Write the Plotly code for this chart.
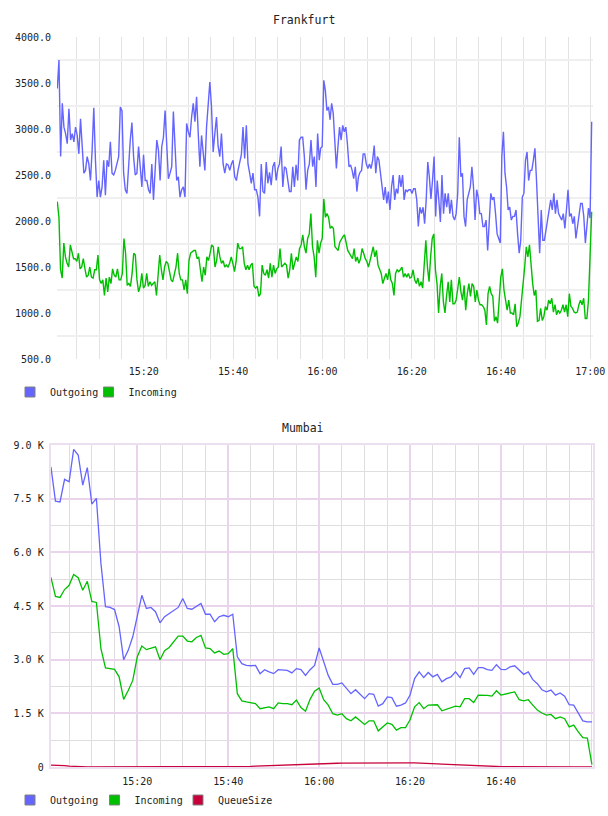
import numpy as np
import pandas as pd
import plotly.graph_objects as go

# ---------------- data ----------------
# Frankfurt: samples roughly every 22 s, read in two halves (15:00-16:00, 16:00-17:00)
fra_out_a = [3440,3750,2700,3280,3020,2950,2840,3220,2880,2950,
             2860,3020,2930,2730,3110,2730,2520,2550,2700,2620,
             2440,2770,3230,2660,2260,2440,2260,2370,2660,2280,
             2660,2590,2860,2520,2500,2550,2620,2700,3240,3200,
             2520,2340,2300,2660,2880,3070,2700,2500,2520,2810,
             2550,2370,2720,2440,2440,2340,2300,2620,2230,2550,
             2880,2770,2440,2810,2910,3200,2770,2460,2520,2590,
             3190,2770,2440,2480,2260,2340,2370,2260,3060,2970,
             2910,3130,3280,3080,3350,2950,2590,2930,2700,2550,
             3020,3310,3510,3240,2750,2950,3130,2810,2700,2950,
             2620,2520,2620,2610,2550,2620,2660,2480,2440,2550,
             2660,2720,3020,2680,3040,2620,2520,2410,2520,2340,
             2340,2260,2050,2620,2320,2300,2640,2410,2530,2390,
             2590,2640,2440,2570,2620,2810,2370,2590,2570,2440,
             2320,2320,2590,2370,2610,2440,2880,2910,2910,2700,
             2340,2550,2620,2880,2590,2700,2370,2950,2660]
fra_out_b = [2790,2810,3530,3420,3200,3240,3100,3280,3170,2880,
             2570,2810,3020,2880,3040,2970,3020,2840,2590,2610,
             2550,2460,2590,2320,2480,2530,2550,2730,2730,2620,
             2570,2620,2570,2660,2820,2520,2700,2660,2520,2370,
             2230,2370,2190,2320,2120,2370,2500,2230,2350,2300,
             2500,2370,2500,2230,2340,2320,2340,2340,2300,2350,
             2350,2230,1940,2150,2080,2150,1970,2230,2640,2480,
             2240,2440,2700,2050,2440,2230,1990,2500,2080,2300,
             2150,2300,2080,2230,2050,2010,2080,2300,2910,2480,
             2520,2050,1940,2230,2300,2370,2590,2370,2010,2340,
             2260,2080,2080,1940,1940,2010,1680,2080,2300,2230,
             2260,2080,1860,1810,1760,2700,2970,2520,2370,2120,
             2150,2010,2050,2050,2120,1860,1650,1790,2260,2300,
             2660,2750,2440,2550,2550,2660,2790,2440,2120,1650,
             2120,1790,1790,1900,2050,2120,2230,2120,2300,2080,
             2230,2080,2050,2010,2080,1920,2120,2340,2050,2080,
             1970,2050,1810,1940,2120,2190,2190,2050,1760,1940,
             2140,2030,3080]
fra_in_a = [2210,2040,1470,1380,1760,1610,1540,1500,1740,1650,
            1590,1590,1560,1650,1480,1500,1590,1480,1390,1410,
            1500,1390,1380,1470,1470,1630,1360,1320,1360,1190,
            1380,1230,1390,1320,1480,1410,1390,1480,1360,1360,
            1430,1810,1650,1300,1320,1290,1430,1650,1630,1360,
            1230,1290,1430,1270,1300,1430,1290,1340,1300,1320,
            1340,1190,1390,1630,1470,1360,1500,1560,1540,1430,
            1360,1340,1430,1500,1650,1430,1360,1360,1250,1360,
            1210,1570,1650,1670,1680,1680,1590,1610,1500,1340,
            1500,1410,1610,1570,1650,1740,1720,1500,1570,1720,
            1610,1540,1570,1500,1520,1500,1540,1610,1540,1450,
            1560,1760,1700,1700,1720,1540,1470,1520,1470,1520,
            1540,1290,1270,1290,1180,1210,1520,1430,1410,1470,
            1380,1540,1390,1520,1430,1480,1500,1700,1500,1520,
            1540,1520,1380,1470,1650,1470,1540,1610,1560,1700,
            1740,1850,1720,1650,1810,1860,2080,1720,1610,1390,
            1790,1650]
fra_in_b = [1760,1810,2240,2040,2080,2040,1920,1940,1920,1720,
            1700,1680,1770,1810,1830,1850,1760,1680,1650,1610,
            1590,1700,1560,1610,1540,1590,1700,1650,1590,1560,
            1500,1570,1650,1720,1610,1680,1520,1470,1430,1320,
            1390,1430,1360,1480,1360,1320,1190,1430,1470,1450,
            1470,1500,1390,1430,1390,1430,1380,1390,1470,1360,
            1320,1380,1290,1340,1270,1570,1790,1500,1340,1610,
            1810,1860,1470,1320,1000,1290,1430,1120,1000,1190,
            1340,1120,1360,1100,1100,1140,1300,1390,1230,1140,
            1300,1030,1210,1320,1180,1320,1290,1120,1250,1140,
            1090,1090,1070,1030,870,1210,1290,1210,1180,910,
            960,890,1140,1390,1480,1250,1140,1030,1140,1000,
            1000,980,1100,850,890,960,1140,1290,1500,1720,
            1610,1740,1500,1320,1190,1250,910,920,1050,920,
            960,1070,1030,1140,1100,1160,1010,1090,980,1030,
            1000,1030,1090,1010,1090,960,1210,1070,1050,1010,
            1000,1010,1090,1140,1090,1160,940,940,1140,1720,
            2100]

# Mumbai: one sample per minute, 15:01 .. 17:00
mum_out = [8390,7430,7410,8040,7970,8880,8720,7880,8370,7350,
           7510,5690,4480,4460,4400,3920,3000,3260,3640,4240,
           4800,4430,4460,4340,4030,4200,4290,4360,4460,4710,
           4430,4410,4480,4570,4270,4270,4060,4200,4240,4200,
           4270,3080,2890,2840,2830,2840,2610,2720,2660,2610,
           2720,2700,2700,2630,2750,2720,2560,2720,2840,3330,
           2940,2560,2310,2310,2350,2190,2050,2160,2020,1910,
           2050,2030,1700,1770,1960,1940,1700,1730,1790,2010,
           2470,2660,2500,2640,2520,2590,2380,2470,2520,2660,
           2500,2750,2770,2590,2780,2780,2720,2700,2860,2730,
           2720,2800,2830,2700,2590,2660,2440,2330,2160,2100,
           2150,2010,2070,1980,1740,1730,1490,1290,1260,1260]
mum_in = [5300,4770,4740,4960,5080,5380,5290,4940,5190,4630,
          4600,3310,2770,2750,2730,2520,1890,2140,2420,3080,
          3380,3280,3310,3360,3000,3250,3340,3500,3660,3660,
          3520,3500,3620,3680,3330,3310,3190,3240,3150,3170,
          3310,2050,1850,1820,1800,1770,1630,1660,1680,1630,
          1790,1770,1770,1740,1870,1660,1560,1890,2120,2210,
          1880,1730,1490,1450,1490,1350,1290,1400,1290,1190,
          1290,1290,1010,1120,1230,1190,1030,1100,1100,1320,
          1680,1800,1630,1730,1730,1740,1570,1610,1660,1700,
          1680,1910,1910,1800,2010,2010,2000,1980,2130,2010,
          2030,2070,2100,1880,1850,1880,1730,1590,1510,1450,
          1470,1350,1400,1350,1120,1170,980,820,810,70]
mum_queue = [55,55,50,40,25,15,8,4,2,0,
             0,0,0,0,0,0,0,0,0,0,
             0,0,0,0,0,0,0,0,0,0,
             0,0,0,0,0,0,0,0,2,3,
             5,8,10,14,18,25,30,38,45,52,
             58,65,70,75,80,85,88,92,95,98,
             100,102,104,105,106,108,110,110,112,112,
             113,114,115,115,116,116,116,117,117,117,
             116,114,110,105,98,90,82,75,68,60,
             52,45,40,35,30,26,22,18,15,12,
             10,9,8,7,6,5,4,4,3,3,
             2,2,2,1,1,1,0,0,0,0]

fra_tick_labels = ["15:20", "15:40", "16:00", "16:20", "16:40", "17:00"]
mum_tick_labels = ["15:20", "15:40", "16:00", "16:20", "16:40"]
fra_y_ticks = [500, 1000, 1500, 2000, 2500, 3000, 3500, 4000]
mum_y_ticks = [0, 1500, 3000, 4500, 6000, 7500, 9000]
mum_y_labels = ["0", "1.5 K", "3.0 K", "4.5 K", "6.0 K", "7.5 K", "9.0 K"]

# ---------------- time axes ----------------
DAY = "2024-01-01 "
BASE = pd.Timestamp(DAY + "15:00")


def span(a, b, n):
    return BASE + pd.to_timedelta(np.linspace(a, b, n), unit="min")


fra_out_x = span(0.63, 59.3, len(fra_out_a)).append(span(59.6, 120.3, len(fra_out_b)))
fra_in_x = span(0.63, 59.24, len(fra_in_a)).append(span(59.6, 120.3, len(fra_in_b)))
mum_x = BASE + pd.to_timedelta(np.arange(1, len(mum_out) + 1), unit="min")

# ---------------- style ----------------
W, H = 608, 816
FONT = "DejaVu Sans Mono"
C_OUT, C_IN, C_Q = "#6464ff", "#00bf00", "#c8003c"


def px_x(p):
    return p / W


def px_y(p):
    return 1 - p / H


fig = go.Figure()

# Frankfurt lines
fig.add_trace(go.Scatter(x=fra_out_x, y=fra_out_a + fra_out_b, mode="lines",
                         line=dict(color=C_OUT, width=1.4), showlegend=False,
                         xaxis="x", yaxis="y"))
fig.add_trace(go.Scatter(x=fra_in_x, y=fra_in_a + fra_in_b, mode="lines",
                         line=dict(color=C_IN, width=1.4), showlegend=False,
                         xaxis="x", yaxis="y"))
# Mumbai lines
fig.add_trace(go.Scatter(x=mum_x, y=mum_out, mode="lines",
                         line=dict(color=C_OUT, width=1.3), showlegend=False,
                         xaxis="x2", yaxis="y2"))
fig.add_trace(go.Scatter(x=mum_x, y=mum_in, mode="lines",
                         line=dict(color=C_IN, width=1.3), showlegend=False,
                         xaxis="x2", yaxis="y2"))
fig.add_trace(go.Scatter(x=mum_x, y=mum_queue, mode="lines",
                         line=dict(color=C_Q, width=1.3), showlegend=False,
                         xaxis="x2", yaxis="y2"))

# legend entries (square swatches), one small legend per entry
legend_items = [("Outgoing", C_OUT, "legend", ("x", "y")),
                ("Incoming", C_IN, "legend2", ("x", "y")),
                ("Outgoing", C_OUT, "legend3", ("x2", "y2")),
                ("Incoming", C_IN, "legend4", ("x2", "y2")),
                ("QueueSize", C_Q, "legend5", ("x2", "y2"))]
for name, col, lg, ax in legend_items:
    fig.add_trace(go.Scatter(x=[None], y=[None], mode="markers", name=name,
                             marker=dict(symbol="square", size=10, color=col,
                                         line=dict(color="#808080", width=1)),
                             legend=lg, xaxis=ax[0], yaxis=ax[1]))

fra_tickvals = [pd.Timestamp(DAY + t) for t in fra_tick_labels]
mum_tickvals = [pd.Timestamp(DAY + t) for t in mum_tick_labels]
tickfont = dict(family=FONT, size=10, color="#222222")
FIVE_MIN = 5 * 60 * 1000


def legend_at(xc, yc):
    # xc: desired swatch centre (px), yc: desired row centre (px)
    return dict(orientation="h", x=px_x(xc - 19), xanchor="left",
                y=px_y(yc), yanchor="middle", itemwidth=30,
                font=dict(family=FONT, size=10, color="#222222"),
                bgcolor="rgba(0,0,0,0)", borderwidth=0)


fig.update_layout(
    width=W, height=H,
    margin=dict(l=0, r=0, t=0, b=0, autoexpand=False),
    paper_bgcolor="white", plot_bgcolor="white",
    font=dict(family=FONT, size=10, color="#222222"),
    xaxis=dict(domain=[px_x(57), px_x(593)],
               range=[BASE + pd.Timedelta(minutes=0.56), BASE + pd.Timedelta(minutes=120.6)],
               tickmode="array", tickvals=fra_tickvals, ticktext=fra_tick_labels,
               showgrid=True, gridcolor="#e3e3e3", gridwidth=1,
               minor=dict(dtick=FIVE_MIN, tick0=BASE, showgrid=True,
                          gridcolor="#e3e3e3", gridwidth=1),
               showline=False, zeroline=False, ticks="", tickfont=tickfont,
               ticklabelstandoff=5, anchor="y"),
    yaxis=dict(domain=[px_y(359), px_y(37)], range=[500, 4000],
               tickmode="array", tickvals=fra_y_ticks,
               ticktext=[f"{v:.1f}" for v in fra_y_ticks],
               showgrid=False,
               minor=dict(tick0=750, dtick=500, showgrid=True,
                          gridcolor="#efefef", gridwidth=2),
               showline=False, zeroline=False, ticks="", tickfont=tickfont,
               ticklabelstandoff=5, anchor="x"),
    xaxis2=dict(domain=[px_x(50.7), px_x(593)],
                range=[BASE + pd.Timedelta(minutes=0.95), BASE + pd.Timedelta(minutes=120.24)],
                tickmode="array", tickvals=mum_tickvals, ticktext=mum_tick_labels,
                showgrid=True, gridcolor="#ead4eb", gridwidth=1.5,
                minor=dict(dtick=FIVE_MIN, tick0=BASE, showgrid=True,
                           gridcolor="#e0dde0", gridwidth=1),
                showline=True, mirror=True, linecolor="#ecdff0", linewidth=2,
                zeroline=False, ticks="", tickfont=tickfont,
                ticklabelstandoff=4, anchor="y2"),
    yaxis2=dict(domain=[px_y(767), px_y(445)], range=[0, 9000],
                tickmode="array", tickvals=mum_y_ticks, ticktext=mum_y_labels,
                showgrid=True, gridcolor="#ead4eb", gridwidth=1.5,
                minor=dict(tick0=0, dtick=750, showgrid=True,
                           gridcolor="#e0dde0", gridwidth=1),
                showline=True, mirror=True, linecolor="#ecdff0", linewidth=2,
                zeroline=False, ticks="", tickfont=tickfont,
                ticklabelstandoff=3, anchor="x2"),
    legend=legend_at(29, 392),
    legend2=legend_at(107.5, 392),
    legend3=legend_at(29, 800),
    legend4=legend_at(113.5, 800),
    legend5=legend_at(197, 800),
    annotations=[
        dict(text="Frankfurt", x=px_x(304), y=px_y(20), xref="paper", yref="paper",
             showarrow=False, xanchor="center", yanchor="middle",
             font=dict(family=FONT, size=11.5, color="#222222")),
        dict(text="Mumbai", x=px_x(303), y=px_y(428), xref="paper", yref="paper",
             showarrow=False, xanchor="center", yanchor="middle",
             font=dict(family=FONT, size=11.5, color="#222222")),
    ],
)

fig.write_html("out.html")
